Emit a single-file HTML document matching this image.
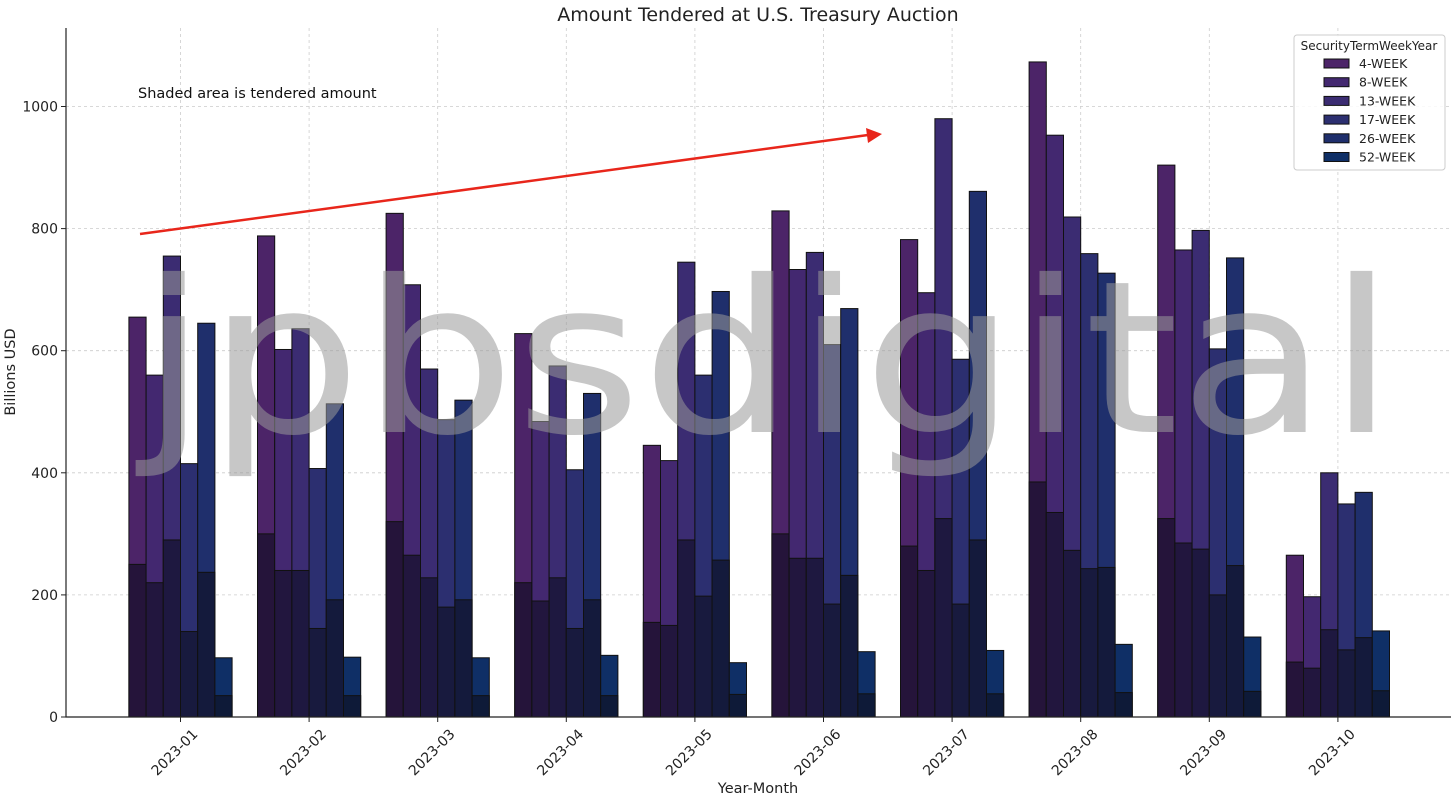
<!DOCTYPE html>
<html><head><meta charset="utf-8"><style>
body{margin:0;background:#fff;}
svg{display:block;font-family:"DejaVu Sans","Liberation Sans",sans-serif;}
</style></head><body>
<svg id="chart" width="1456" height="800" viewBox="0 0 1456 800">
<text x="758" y="21" text-anchor="middle" font-size="19" fill="#222">Amount Tendered at U.S. Treasury Auction</text>
<g id="grid"></g>
<g id="bars"></g>
<g id="axes"></g>
<text x="138" y="98" font-size="14.5" fill="#111">Shaded area is tendered amount</text>
<line x1="140" y1="234" x2="868" y2="135" stroke="#e8261b" stroke-width="2.5"/>
<polygon points="882,134 866,128 868,143" fill="#e8261b"/>
<text x="140" y="432" font-size="212" fill="#999" fill-opacity="0.55" font-family="DejaVu Sans, sans-serif" textLength="1255" lengthAdjust="spacingAndGlyphs">jpbsdigital</text>
<text x="758" y="793" text-anchor="middle" font-size="14.5" fill="#222">Year-Month</text>
<text transform="translate(15,372) rotate(-90)" text-anchor="middle" font-size="14.5" fill="#222">Billions USD</text>
<g id="legend"></g>
</svg>
<script>
const months=["2023-01","2023-02","2023-03","2023-04","2023-05","2023-06","2023-07","2023-08","2023-09","2023-10"];
const terms=["4-WEEK","8-WEEK","13-WEEK","17-WEEK","26-WEEK","52-WEEK"];
const offered=[
[655,560,755,415,645,97],
[788,602,636,407,513,98],
[825,708,570,487,519,97],
[628,484,575,405,530,101],
[445,420,745,560,697,89],
[829,733,761,610,669,107],
[782,695,980,586,861,109],
[1073,953,819,759,727,119],
[904,765,797,603,752,131],
[265,197,400,349,368,141]];
const tendered=[
[250,220,290,140,237,35],
[300,240,240,145,192,35],
[320,265,228,180,192,35],
[220,190,228,145,192,35],
[155,150,290,198,257,37],
[300,260,260,185,232,38],
[280,240,325,185,290,38],
[385,335,273,243,245,40],
[325,285,275,200,248,42],
[90,80,143,110,130,43]];
const yTicks=[0,200,400,600,800,1000];
const colors=["#4c2468","#432870","#3b2c72","#2c2f70","#1f2f6c","#0f2f66"];
const darks=["#25143a","#22163e","#1e1840","#181a3e","#141a3c","#0e1a38"];
const NS="http://www.w3.org/2000/svg";
const y=v=>717-v*0.6105;
const gx=i=>180.5+i*128.6;
const bw=17.2;
const bx=(i,j)=>gx(i)-3*bw+j*bw;
function mk(tag,attrs,parent){const e=document.createElementNS(NS,tag);for(const k in attrs)e.setAttribute(k,attrs[k]);parent.appendChild(e);return e;}
const grid=document.getElementById('grid'),bars=document.getElementById('bars'),axes=document.getElementById('axes'),leg=document.getElementById('legend');
yTicks.forEach(t=>{
 const l=mk('line',{x1:66,x2:1450,y1:y(t),y2:y(t),stroke:'#ccc','stroke-dasharray':'3,3','stroke-width':0.8},grid);
 
 
 const tk=mk('line',{x1:61,x2:66,y1:y(t),y2:y(t),stroke:'#222'},axes);
 
 
 const tx=mk('text',{x:58,y:y(t)+5,'text-anchor':'end','font-size':14,fill:'#222'},axes);
 tx.textContent=t;
 
 
});
months.forEach((m,i)=>{
 const l=mk('line',{x1:gx(i),x2:gx(i),y1:28,y2:717,stroke:'#ccc','stroke-dasharray':'3,3','stroke-width':0.8},grid);
 
 
 terms.forEach((t,j)=>{
  const r=mk('rect',{x:bx(i,j),y:y(offered[i][j]),width:bw,height:717-y(offered[i][j]),fill:colors[j],stroke:'#111','stroke-width':1},bars);
  
  
  const d=mk('rect',{x:bx(i,j),y:y(tendered[i][j]),width:bw,height:717-y(tendered[i][j]),fill:darks[j],stroke:'#111','stroke-width':1},bars);
  
  
 });
 const tk=mk('line',{x1:gx(i),x2:gx(i),y1:717,y2:722,stroke:'#222'},axes);
 
 
 const tx=mk('text',{x:gx(i)+18,y:735,'text-anchor':'end','font-size':14,fill:'#222',transform:'rotate(-45 '+(gx(i)+18)+' 735)'},axes);
 tx.textContent=m;
 
 
});
const ax=mk('path',{d:'M66,28 V717 H1451',fill:'none',stroke:'#222','stroke-width':1.2},axes);


const box=mk('rect',{x:1294,y:35,width:151,height:135,rx:3,fill:'#fff','fill-opacity':0.85,stroke:'#ccc'},leg);


const lt=mk('text',{x:1369,y:50,'text-anchor':'middle','font-size':12,fill:'#222'},leg);
lt.textContent='SecurityTermWeekYear';


terms.forEach((t,j)=>{
 const ly=59+j*18.7;
 const s=mk('rect',{x:1324,y:ly,width:25,height:9,fill:colors[j],stroke:'#111'},leg);
 
 
 const tx=mk('text',{x:1359,y:ly+9,'font-size':12.5,fill:'#222'},leg);
 tx.textContent=t;
 
 
});
</script>
</body></html>
